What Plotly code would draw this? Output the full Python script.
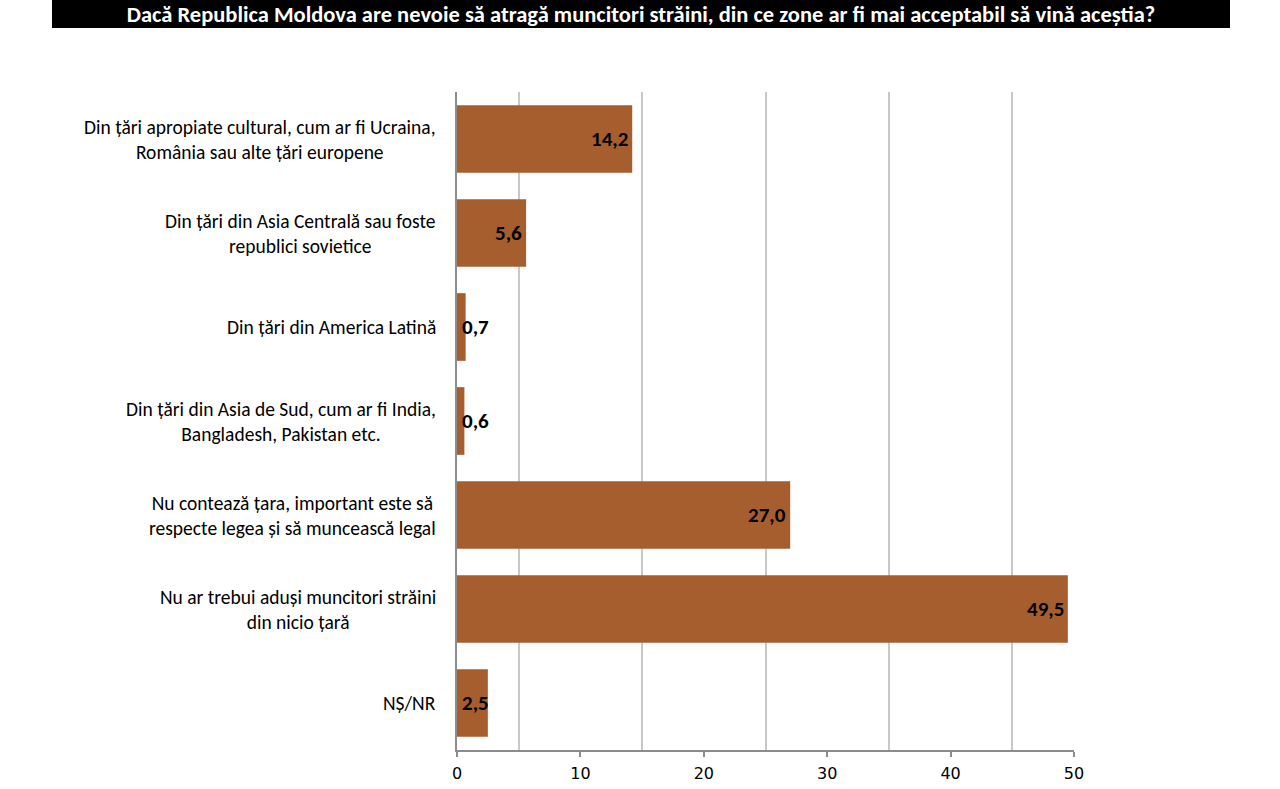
import plotly.graph_objects as go

title_text = "Dacă Republica Moldova are nevoie să atragă muncitori străini, din ce zone ar fi mai acceptabil să vină aceștia?"
categories = [
    "Din țări apropiate cultural, cum ar fi Ucraina,<br>România sau alte țări europene",
    "Din țări din Asia Centrală sau foste<br>republici sovietice",
    "Din țări din America Latină",
    "Din țări din Asia de Sud, cum ar fi India,<br>Bangladesh, Pakistan etc.",
    "Nu contează țara, important este să<br>respecte legea și să muncească legal",
    "Nu ar trebui aduși muncitori străini<br>din nicio țară",
    "NȘ/NR",
]
values = [14.2, 5.6, 0.7, 0.6, 27.0, 49.5, 2.5]
x_ticks = [0, 10, 20, 30, 40, 50]

BAR_COLOR = "#A65E2E"
FONT = "Carlito, Lato, sans-serif"
TICK_FONT = "DejaVu Sans, Verdana, sans-serif"

W, H = 1280, 789
L, R, T, B = 457, 206, 92, 39
pw, ph = W - L - R, H - T - B

def px_x(px):
    return (px - L) / pw

def px_y(py):
    return (H - B - py) / ph

ids = list(range(len(categories)))

fig = go.Figure()
fig.add_trace(go.Bar(
    x=values, y=ids, orientation="h",
    marker=dict(color=BAR_COLOR, line=dict(width=0)),
    width=0.72, hoverinfo="skip",
))

annotations = []
for i, (c, v) in enumerate(zip(categories, values)):
    annotations.append(dict(
        x=px_x(438), xref="paper", y=i, yref="y",
        text=c, showarrow=False, xanchor="right", yanchor="middle",
        align="center", font=dict(family=FONT, size=19.5, color="#000000"),
    ))
    label = f"{v:.1f}".replace(".", ",")
    if v < 3:
        annotations.append(dict(
            x=0, xref="x", y=i, yref="y", text=f"<b>{label}</b>",
            showarrow=False, xanchor="left", yanchor="middle", xshift=3,
            font=dict(family=FONT, size=21, color="#000000"),
        ))
    else:
        annotations.append(dict(
            x=v, xref="x", y=i, yref="y", text=f"<b>{label}</b>",
            showarrow=False, xanchor="right", yanchor="middle", xshift=-2,
            font=dict(family=FONT, size=21, color="#000000"),
        ))

fig.update_layout(
    width=W, height=H,
    margin=dict(l=L, r=R, t=T, b=B, autoexpand=False),
    paper_bgcolor="white", plot_bgcolor="white",
    showlegend=False,
    title=dict(
        text=f"<b>{title_text}</b>", x=641 / W, xref="container", xanchor="center",
        y=1 - 14 / H, yref="container", yanchor="middle",
        font=dict(family=FONT, size=22.5, color="white"),
    ),
    shapes=[dict(
        type="rect", xref="paper", yref="paper",
        x0=px_x(52), x1=px_x(1230), y0=px_y(28), y1=px_y(0),
        fillcolor="black", line=dict(width=0), layer="below",
    )],
    annotations=annotations,
    xaxis=dict(
        range=[0, 50], tickvals=x_ticks, ticktext=[str(t) for t in x_ticks],
        showgrid=False, zeroline=False,
        showline=True, linecolor="#8C8C8C", linewidth=1.5,
        ticks="outside", ticklen=5, tickcolor="#8C8C8C", tickwidth=1.5,
        ticklabelstandoff=3,
        tickfont=dict(family=TICK_FONT, size=16, color="#000000"),
        minor=dict(tick0=5, dtick=10, showgrid=True, gridcolor="#C8C8C8", gridwidth=1.5, ticks=""),
        fixedrange=True,
    ),
    yaxis=dict(
        range=[len(categories) - 0.5, -0.5],
        showticklabels=False, showgrid=False, zeroline=False,
        showline=True, linecolor="#8C8C8C", linewidth=1.5, ticks="",
        fixedrange=True,
    ),
)

fig.write_html("out.html")
